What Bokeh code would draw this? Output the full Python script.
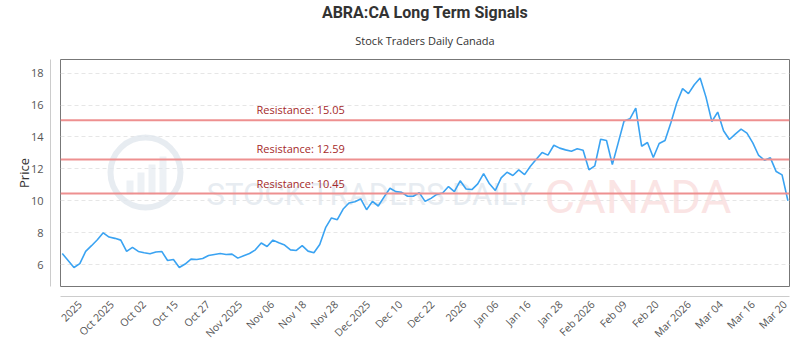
import numpy as np
from bokeh.plotting import figure
from bokeh.models import (Range1d, LinearAxis, FixedTicker, CustomJSTickFormatter,
                          Span, Label, Title, BoxAnnotation)
from bokeh.embed import file_html
from bokeh.resources import INLINE

# ---- data ----
prices = [
    6.69, 6.25, 5.81, 6.06, 6.82, 7.18, 7.55, 7.99, 7.72, 7.64,
    7.53, 6.82, 7.07, 6.82, 6.74, 6.67, 6.78, 6.82, 6.25, 6.31,
    5.81, 6.03, 6.34, 6.31, 6.38, 6.57, 6.63, 6.69, 6.63, 6.65,
    6.40, 6.55, 6.69, 6.92, 7.35, 7.13, 7.53, 7.36, 7.22, 6.92,
    6.88, 7.18, 6.84, 6.74, 7.26, 8.31, 8.92, 8.81, 9.48, 9.86,
    9.94, 10.11, 9.44, 9.96, 9.67, 10.24, 10.78, 10.57, 10.53, 10.28,
    10.28, 10.51, 9.96, 10.15, 10.40, 10.49, 10.89, 10.57, 11.25, 10.74,
    10.70, 11.06, 11.70, 11.06, 10.64, 11.43, 11.79, 11.58, 11.94, 11.64,
    12.16, 12.60, 13.03, 12.86, 13.48, 13.30, 13.19, 13.11, 13.26, 13.17,
    11.94, 12.19, 13.86, 13.78, 12.27, 13.63, 15.00, 15.14, 15.81, 13.42,
    13.65, 12.71, 13.59, 13.78, 14.89, 16.13, 17.03, 16.72, 17.28, 17.70,
    16.50, 14.97, 15.56, 14.39, 13.84, 14.18, 14.49, 14.24, 13.63, 12.84,
    12.54, 12.69, 11.83, 11.62, 10.00,
]
tick_labels = ["2025", "Oct 2025", "Oct 02", "Oct 15", "Oct 27", "Nov 2025", "Nov 06",
               "Nov 18", "Nov 28", "Dec 2025", "Dec 10", "Dec 22", "2026", "Jan 06",
               "Jan 16", "Jan 28", "Feb 2026", "Feb 09", "Feb 20", "Mar 2026", "Mar 04",
               "Mar 16", "Mar 20"]
resistance_levels = [15.05, 12.59, 10.45]
y_ticks = [6, 8, 10, 12, 14, 16, 18]

N = len(prices)
idx = list(range(N))

FONT = "Open Sans"

p = figure(width=800, height=350, output_backend="svg", toolbar_location=None,
           x_range=Range1d(-0.3, N - 1 + 0.27), y_range=Range1d(4.62, 18.86),
           min_border_left=60, min_border_right=11, min_border_top=59,
           min_border_bottom=64, background_fill_color="white",
           border_fill_color="white")
p.outline_line_color = "#777777"
p.outline_line_width = 1

# spacer axes (keep the visible axis lines 10px away from the frame)
blank = CustomJSTickFormatter(code="return '';")
p.xaxis[0].ticker = FixedTicker(ticks=[60])
p.yaxis[0].ticker = FixedTicker(ticks=[y_ticks[3]])
for ax in (p.xaxis[0], p.yaxis[0]):
    ax.formatter = blank
    ax.axis_line_color = None
    ax.major_tick_line_color = None
    ax.minor_tick_line_color = None
    ax.major_tick_out = 10
    ax.major_tick_in = 0
    ax.major_label_standoff = 0
    ax.major_label_text_font_size = "0px"

# visible y axis
yax = LinearAxis(ticker=FixedTicker(ticks=y_ticks), axis_label="Price")
yax.axis_line_color = "#cccccc"
yax.major_tick_line_color = None
yax.minor_tick_line_color = None
yax.major_tick_out = 0
yax.major_tick_in = 0
yax.major_label_standoff = 7
yax.major_label_text_font = FONT
yax.major_label_text_font_size = "11px"
yax.major_label_text_color = "#555555"
yax.axis_label_text_font = FONT
yax.axis_label_text_font_size = "13px"
yax.axis_label_text_font_style = "normal"
yax.axis_label_text_color = "#333333"
yax.axis_label_standoff = -5
p.add_layout(yax, "left")

# visible x axis
t0 = 3.0
t1 = N - 1.5
step = (t1 - t0) / (len(tick_labels) - 1)
tick_pos = list(np.linspace(t0, t1, len(tick_labels)))
xfmt = CustomJSTickFormatter(args=dict(labels=tick_labels, t0=t0, step=step),
                             code="return labels[Math.round((tick - t0) / step)];")
xax = LinearAxis(ticker=FixedTicker(ticks=tick_pos), formatter=xfmt)
xax.axis_line_color = "#cccccc"
xax.major_tick_line_color = None
xax.minor_tick_line_color = None
xax.major_tick_out = 0
xax.major_tick_in = 0
xax.major_label_standoff = 6
xax.major_label_orientation = np.pi / 4
xax.major_label_text_font = FONT
xax.major_label_text_font_size = "10.5px"
xax.major_label_text_color = "#555555"
p.add_layout(xax, "below")

# grid
p.xgrid.visible = False
p.ygrid.ticker = FixedTicker(ticks=y_ticks)
p.ygrid.grid_line_color = "#e6e6e6"
p.ygrid.grid_line_dash = "4 3"

# watermark (logo ring + bars + text), placed in screen units
WM = "#e1e7ee"
p.add_layout(BoxAnnotation(left=50, right=120, bottom=79, top=149,
                           left_units="screen", right_units="screen",
                           bottom_units="screen", top_units="screen",
                           border_radius=35, fill_alpha=0.0,
                           line_color=WM, line_width=6, line_alpha=0.8,
                           level="underlay"))
for bl, bh in [(66, 14), (77, 22), (88, 30), (99, 38)]:
    p.add_layout(BoxAnnotation(left=bl, right=bl + 7, bottom=92, top=92 + bh,
                               left_units="screen", right_units="screen",
                               bottom_units="screen", top_units="screen",
                               fill_color=WM, fill_alpha=0.6, line_alpha=0.0,
                               level="underlay"))
p.add_layout(Label(x=146, y=92, x_units="screen", y_units="screen",
                   text="STOCK TRADERS DAILY", text_font="Roboto",
                   text_font_size="31px", text_color=WM, text_alpha=0.8,
                   text_baseline="alphabetic", level="underlay"))
p.add_layout(Label(x=484, y=90, x_units="screen", y_units="screen",
                   text="CANADA", text_font="Roboto",
                   text_font_size="47px", text_color="#f9d8d8", text_alpha=0.7,
                   text_baseline="alphabetic", level="underlay"))

# resistance lines
for lvl in resistance_levels:
    p.add_layout(Span(location=lvl, dimension="width", line_color="#ee9090",
                      line_width=2))
    p.add_layout(Label(x=196, x_units="screen", y=lvl, y_units="data",
                       text=f"Resistance: {lvl:.2f}", y_offset=3,
                       text_font=FONT, text_font_size="11px",
                       text_color="#a52a2a", text_baseline="bottom"))

# price line
p.line(idx, prices, line_color="#3aa3f2", line_width=1.6)

# titles
p.add_layout(Title(text="Stock Traders Daily Canada", align="center",
                   vertical_align="middle",
                   text_font=FONT, text_font_size="11px", standoff=21,
                   text_font_style="normal", text_color="#333333"), "above")
p.add_layout(Title(text="ABRA:CA Long Term Signals", align="center",
                   text_font="Roboto", text_font_size="16px", standoff=0,
                   text_font_style="bold", text_color="#333333"), "above")

open("out.html", "w").write(file_html(p, INLINE))
